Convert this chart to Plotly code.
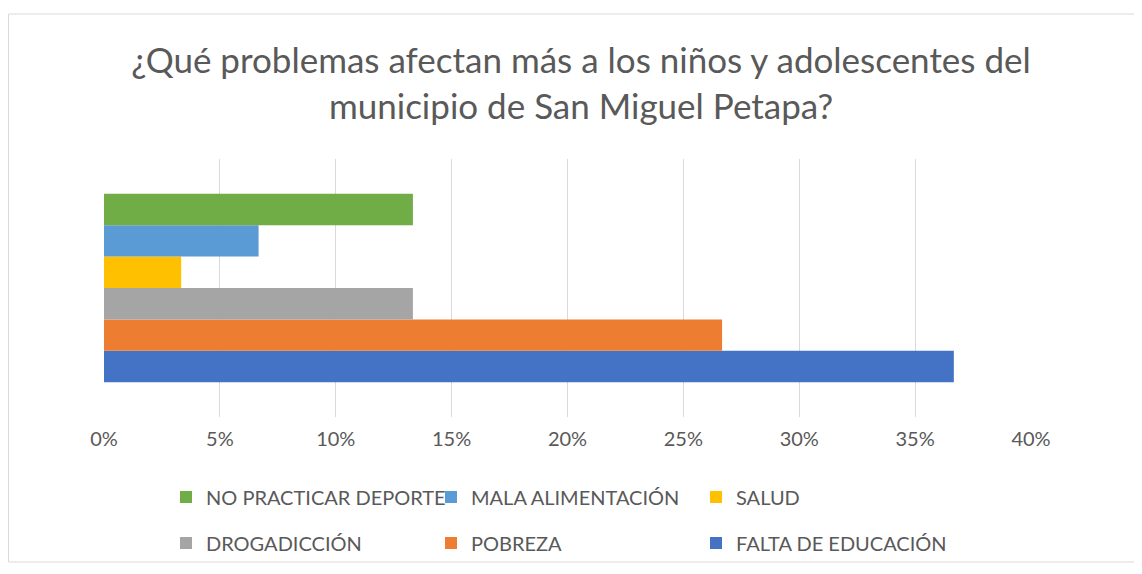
import plotly.graph_objects as go

# Data
category = ["Problemas"]
series_names = ["FALTA DE EDUCACIÓN", "POBREZA", "DROGADICCIÓN",
                "SALUD", "MALA ALIMENTACIÓN", "NO PRACTICAR DEPORTE"]
series_values = [0.3667, 0.2667, 0.1333, 0.0333, 0.0667, 0.1333]
series_colors = ["#4472C4", "#ED7D31", "#A5A5A5", "#FFC000", "#5B9BD5", "#70AD47"]
legend_group = ["legend2", "legend2", "legend2", "legend", "legend", "legend"]
tick_vals = [0, 0.05, 0.10, 0.15, 0.20, 0.25, 0.30, 0.35, 0.40]
tick_text = ["0%", "5%", "10%", "15%", "20%", "25%", "30%", "35%", "40%"]
title_text = "¿Qué problemas afectan más a los niños y adolescentes del<br>municipio de San Miguel Petapa?"

# page body has an 8px margin: size the figure to fill the window
O = 8
W, H = 1142 - O, 574 - O
ML, MR, MT, MB = 96, 111, 151, 157
pw, ph = W - ML - MR, H - MT - MB

def px_x(p):
    return (p - ML) / pw

def px_y(p):
    return (H - MB - p) / ph

FONT = "Lato"
GRAY = "#595959"

fig = go.Figure()
for name, val, col, lg in zip(series_names, series_values, series_colors, legend_group):
    fig.add_trace(go.Bar(
        y=category, x=[val], name=name, orientation="h",
        marker=dict(color=col, line=dict(width=0)),
        legend=lg,
        hovertemplate=name + ": %{x:.1%}<extra></extra>",
    ))

legend_common = dict(
    orientation="h", xanchor="left", yanchor="middle",
    font=dict(family=FONT, size=20, color=GRAY),
    entrywidth=220, entrywidthmode="pixels",
    traceorder="reversed", bgcolor="rgba(0,0,0,0)",
    itemwidth=30,
)

fig.update_layout(
    width=W, height=H,
    margin=dict(l=ML, r=MR, t=MT, b=MB),
    paper_bgcolor="white", plot_bgcolor="white",
    barmode="group", bargap=0.27, bargroupgap=0,
    title=dict(text=title_text, x=px_x(573), xanchor="center", xref="paper",
               y=1 - 65 / H, yref="container", yanchor="middle",
               font=dict(family=FONT, size=35, color=GRAY)),
    xaxis=dict(range=[0, 0.40], tickvals=tick_vals, ticktext=tick_text,
               showgrid=True, gridcolor="#D9D9D9", gridwidth=1,
               zeroline=False, showline=False, ticks="",
               ticklabelstandoff=8,
               tickfont=dict(family=FONT, size=20, color=GRAY)),
    yaxis=dict(showticklabels=False, showgrid=False, zeroline=False,
               showline=False, ticks=""),
    legend=dict(x=px_x(158), y=px_y(489), **legend_common),
    legend2=dict(x=px_x(158), y=px_y(535), **legend_common),
    shapes=[dict(type="rect", xref="paper", yref="paper",
                 x0=px_x(0.5), x1=px_x(1131), y0=px_y(554), y1=px_y(6),
                 line=dict(color="#D9D9D9", width=1), fillcolor="rgba(0,0,0,0)",
                 layer="below")],
    showlegend=True,
)

fig.write_html("out.html")
